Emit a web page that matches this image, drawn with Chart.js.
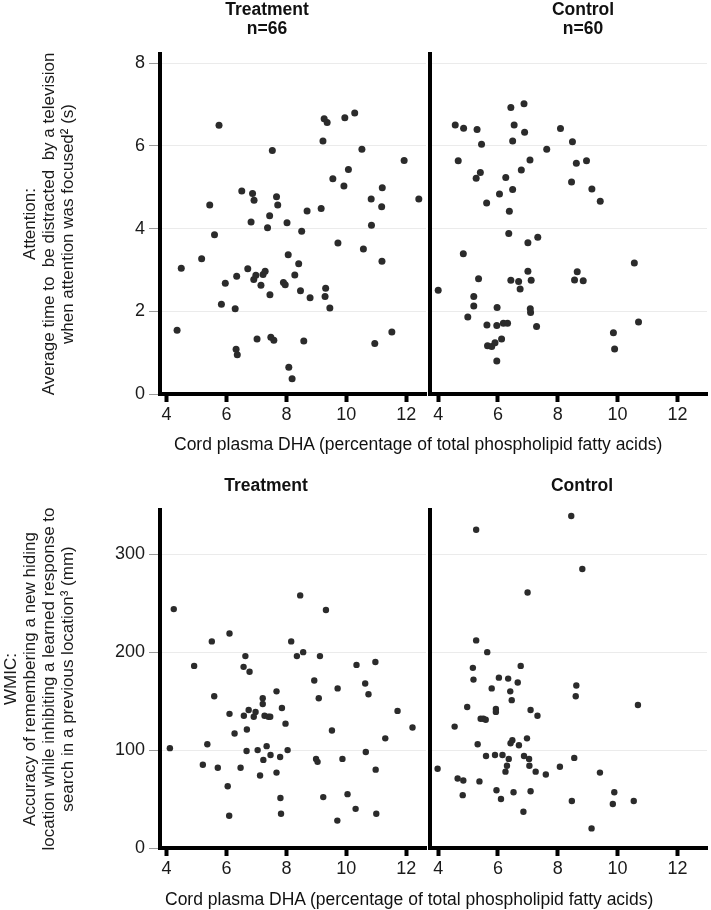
<!DOCTYPE html>
<html>
<head>
<meta charset="utf-8">
<script src="https://cdn.jsdelivr.net/npm/chart.js@4.4.1/dist/chart.umd.min.js"></script>
<style>
  html, body { margin: 0; padding: 0; background: #fff; }
  #page { position: relative; width: 711px; height: 910px; overflow: hidden; font-family: "Liberation Sans", Arial, sans-serif; color: #111; }
  #page canvas { position: absolute; }
  .head { position: absolute; width: 200px; text-align: center; font-weight: bold; font-size: 17.5px; line-height: 19px; }
  .xtitle { position: absolute; white-space: nowrap; font-size: 17.5px; line-height: 20px; }
</style>
</head>
<body>
<div id="page">
  <canvas id="attnTreat" width="430" height="450" style="left:0;top:0"></canvas>
  <canvas id="attnCtrl" width="291" height="450" style="left:420px;top:0"></canvas>
  <canvas id="wmicTreat" width="430" height="450" style="left:0;top:460px"></canvas>
  <canvas id="wmicCtrl" width="291" height="450" style="left:420px;top:460px"></canvas>

  <div class="head" style="left:167px;top:0">Treatment<br>n=66</div>
  <div class="head" style="left:483px;top:0">Control<br>n=60</div>
  <div class="head" style="left:166px;top:476px">Treatment</div>
  <div class="head" style="left:482px;top:476px">Control</div>
  <div class="xtitle" style="left:174px;top:434px">Cord plasma DHA (percentage of total phospholipid fatty acids)</div>
  <div class="xtitle" style="left:165px;top:889px">Cord plasma DHA (percentage of total phospholipid fatty acids)</div>
</div>
<script>
// tick labels
const dhaTicks = [4, 6, 8, 10, 12];
const attnTicks = [0, 2, 4, 6, 8];
const wmicTicks = [0, 100, 200, 300];

// Attention, treatment group
const dhaTreatAttn = [5.75, 4.49, 4.35, 5.17, 5.44, 5.60, 5.96, 5.83, 6.29, 6.34, 6.32, 6.36, 6.51, 6.71, 6.82, 6.87, 6.92, 6.91, 6.98, 7.02, 7.15, 7.22, 7.29, 7.37, 7.44, 7.45, 7.53, 7.48, 7.58, 7.67, 7.71, 7.90, 8.02, 7.96, 8.06, 8.08, 8.19, 8.28, 8.41, 8.47, 8.51, 8.58, 8.69, 8.79, 9.16, 9.22, 9.26, 9.36, 9.31, 9.29, 9.45, 9.55, 9.72, 9.92, 9.95, 10.07, 10.28, 10.52, 10.57, 10.83, 10.84, 10.95, 11.20, 11.18, 11.19, 11.52, 11.93, 12.42];
const attnTreat = [6.50, 3.04, 1.54, 3.27, 4.57, 3.85, 2.68, 2.17, 2.06, 2.85, 1.08, 0.95, 4.91, 3.03, 4.16, 4.85, 4.69, 2.77, 2.87, 1.33, 2.63, 2.89, 2.97, 4.02, 4.31, 2.40, 5.89, 1.37, 1.30, 4.77, 4.57, 2.70, 4.14, 2.64, 3.37, 0.65, 0.37, 2.88, 3.15, 2.50, 3.94, 1.28, 4.43, 2.33, 4.49, 6.12, 6.66, 6.57, 2.56, 2.36, 2.08, 5.21, 3.65, 5.03, 6.68, 5.43, 6.80, 5.92, 3.51, 4.72, 4.08, 1.22, 4.99, 4.53, 3.21, 1.50, 5.65, 4.72];

// Attention, control group
const dhaCtrlAttn = [4.00, 4.57, 4.67, 4.85, 4.84, 4.99, 5.19, 5.19, 5.30, 5.35, 5.41, 5.27, 5.45, 5.62, 5.63, 5.65, 5.79, 5.90, 5.96, 5.96, 5.97, 6.05, 6.12, 6.18, 6.32, 6.26, 6.36, 6.38, 6.43, 6.43, 6.49, 6.49, 6.54, 6.69, 6.74, 6.78, 6.87, 6.89, 7.00, 7.00, 7.07, 7.08, 7.09, 7.11, 7.29, 7.33, 7.63, 8.09, 8.46, 8.49, 8.56, 8.62, 8.65, 8.85, 8.96, 9.14, 9.42, 9.86, 9.90, 10.56, 10.70];
const attnCtrl = [2.51, 6.51, 5.64, 6.43, 3.39, 1.86, 2.36, 2.13, 6.40, 2.79, 5.36, 5.22, 6.04, 4.62, 1.67, 1.17, 1.15, 1.24, 0.80, 1.66, 2.09, 4.84, 1.33, 1.71, 1.71, 5.24, 3.88, 4.42, 6.93, 2.75, 4.95, 6.12, 6.51, 2.72, 2.54, 5.42, 7.02, 6.33, 3.66, 2.97, 5.66, 2.06, 1.97, 2.75, 1.63, 3.79, 5.92, 6.42, 5.13, 6.10, 2.76, 5.58, 2.96, 2.74, 5.64, 4.96, 4.66, 1.48, 1.09, 3.17, 1.74];

// WMIC, treatment group
const dhaTreatWmic = [4.24, 4.11, 4.92, 5.21, 5.36, 5.51, 5.59, 5.71, 6.10, 6.10, 6.04, 6.09, 6.27, 6.47, 6.57, 6.63, 6.77, 6.58, 6.68, 6.67, 6.74, 6.91, 6.97, 7.04, 7.12, 7.21, 7.21, 7.23, 7.27, 7.34, 7.40, 7.46, 7.47, 7.67, 7.67, 7.79, 7.85, 7.80, 7.82, 7.97, 8.04, 8.16, 8.35, 8.46, 8.56, 8.93, 8.99, 9.04, 9.08, 9.12, 9.23, 9.32, 9.52, 9.71, 9.70, 9.87, 10.04, 10.34, 10.31, 10.63, 10.65, 10.74, 10.97, 10.98, 11.00, 11.30, 11.71, 12.21];
const wmicTreat = [244, 102, 186, 85, 106, 211, 155, 82, 219, 137, 63, 33, 117, 82, 185, 196, 180, 135, 121, 99, 141, 134, 139, 100, 74, 153, 147, 90, 135, 104, 134, 134, 95, 160, 77, 93, 143, 51, 35, 127, 100, 211, 196, 258, 200, 171, 91, 88, 153, 196, 52, 243, 120, 163, 28, 91, 55, 187, 40, 168, 98, 157, 190, 80, 35, 112, 140, 123];

// WMIC, control group
const dhaCtrlWmic = [8.45, 5.27, 8.82, 6.99, 5.27, 5.64, 6.76, 5.16, 5.18, 6.03, 6.34, 6.66, 5.79, 6.41, 6.46, 8.62, 8.60, 10.68, 4.97, 5.93, 5.93, 7.09, 7.32, 5.42, 5.51, 5.59, 4.55, 5.32, 6.48, 6.42, 6.70, 6.97, 5.60, 5.90, 6.15, 6.36, 6.87, 7.04, 6.30, 7.05, 6.25, 7.26, 7.60, 8.07, 8.55, 3.98, 4.65, 4.84, 4.82, 5.38, 5.95, 6.10, 6.52, 7.09, 6.85, 8.47, 9.41, 9.89, 9.84, 10.54, 9.13];
const wmicCtrl = [339, 325, 285, 261, 212, 200, 186, 184, 172, 174, 173, 169, 163, 160, 151, 166, 155, 146, 144, 142, 139, 141, 135, 132, 132, 131, 124, 106, 110, 107, 105, 112, 94, 95, 95, 91, 94, 91, 84, 84, 78, 78, 75, 83, 92, 81, 71, 69, 54, 68, 59, 50, 57, 58, 37, 48, 77, 57, 45, 48, 20];

const attnTitle = ['Attention:', 'Average time to  be distracted  by a television', 'when attention was focused\u00b2 (s)'];
const wmicTitle = ['WMIC:', 'Accuracy of remembering a new hiding', 'location while inhibiting a learned response to', 'search in a previous location\u00b3 (mm)'];

const FONT = '"Liberation Sans", Arial, sans-serif';
Chart.defaults.font.family = FONT;
Chart.defaults.color = '#1a1a1a';

function setTicks(list) {
  return function (scale) {
    scale.ticks = list.map(v => ({ value: v }));
  };
}

function drawPanel(id, xs, ys, p) {
  const points = xs.map((x, i) => ({ x: x, y: ys[i] }));
  const yScale = {
    type: 'linear',
    min: 0,
    max: p.yMax,
    afterBuildTicks: setTicks(p.yTicks),
    afterFit: s => { s.width = p.yWidth; },
    border: { color: '#000', width: 4 },
    grid: { color: '#ebebeb', lineWidth: 1, drawTicks: p.left, tickLength: 11, tickColor: '#9a9a9a', tickWidth: 1 },
    ticks: { display: p.left, padding: 4, font: { size: 18 }, color: '#1a1a1a' }
  };
  if (p.left) {
    yScale.title = {
      display: true,
      text: p.title,
      color: '#1a1a1a',
      font: { size: 17, lineHeight: 1.12 },
      padding: { top: p.titlePad, bottom: 0 }
    };
  }

  new Chart(document.getElementById(id), {
    type: 'scatter',
    data: {
      datasets: [{
        data: points,
        backgroundColor: '#2b2b2b',
        borderWidth: 0,
        pointRadius: p.radius
      }]
    },
    options: {
      responsive: false,
      animation: false,
      events: [],
      layout: { padding: { top: p.padTop, left: 0, right: 0, bottom: 0 } },
      plugins: {
        legend: { display: false },
        tooltip: { enabled: false }
      },
      scales: {
        x: {
          type: 'linear',
          min: p.xMin,
          max: p.xMax,
          afterBuildTicks: setTicks(dhaTicks),
          afterFit: s => { s.height = p.xHeight; },
          border: { color: '#000', width: 4 },
          grid: { drawOnChartArea: false, drawTicks: true, tickLength: 8, tickWidth: 4, tickColor: '#000' },
          ticks: { padding: 2, maxRotation: 0, autoSkip: false, font: { size: 18 }, color: '#1a1a1a' }
        },
        y: yScale
      }
    }
  });
}

drawPanel('attnTreat', dhaTreatAttn, attnTreat, {
  left: true, yWidth: 160, padTop: 54, xHeight: 56, xMin: 3.78, xMax: 12.66,
  yMax: 8.225, yTicks: attnTicks, title: attnTitle, titlePad: 20.5, radius: 3.5
});
drawPanel('attnCtrl', dhaCtrlAttn, attnCtrl, {
  left: false, yWidth: 10, padTop: 54, xHeight: 56, xMin: 3.726, xMax: 12.99,
  yMax: 8.225, yTicks: attnTicks, radius: 3.5
});
drawPanel('wmicTreat', dhaTreatWmic, wmicTreat, {
  left: true, yWidth: 160, padTop: 50, xHeight: 62, xMin: 3.78, xMax: 12.66,
  yMax: 345.2, yTicks: wmicTicks, title: wmicTitle, titlePad: 1.5, radius: 3.2
});
drawPanel('wmicCtrl', dhaCtrlWmic, wmicCtrl, {
  left: false, yWidth: 10, padTop: 50, xHeight: 62, xMin: 3.726, xMax: 12.99,
  yMax: 345.2, yTicks: wmicTicks, radius: 3.2
});
</script>
</body>
</html>
